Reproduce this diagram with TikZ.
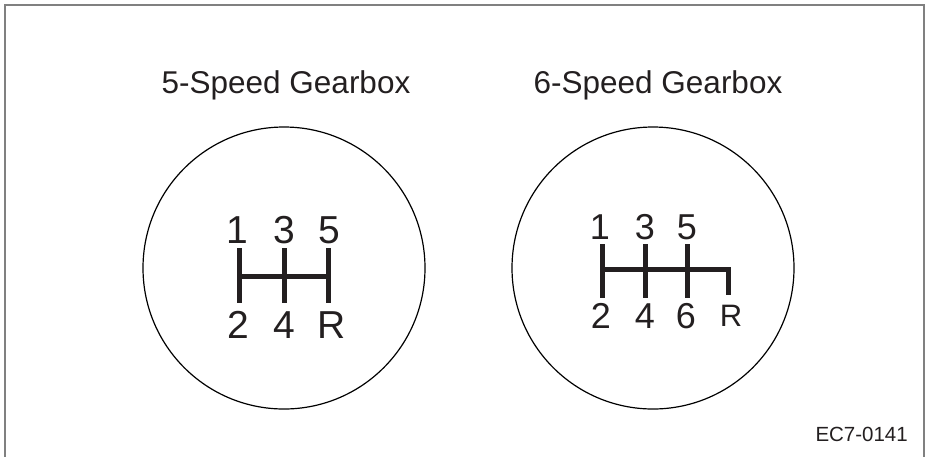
\documentclass[tikz,border=0pt]{standalone}
\usepackage{fontspec}
\setmainfont{Liberation Sans}
\definecolor{framegray}{HTML}{808080}
\definecolor{inkgray}{HTML}{231F20}
\tikzset{
  knob/.style={draw,circle,line width=1.2pt,minimum size=282pt,inner sep=0pt},
  heading/.style={anchor=base,text=inkgray,font=\fontsize{31.5}{32}\selectfont},
  gearbig/.style={anchor=base,inner sep=0pt,text=inkgray,font=\fontsize{39}{39}\selectfont},
  gearmid/.style={anchor=base,inner sep=0pt,text=inkgray,font=\fontsize{36}{36}\selectfont},
  gearrev/.style={anchor=base,inner sep=0pt,text=inkgray,font=\fontsize{31}{31}\selectfont},
  gate/.style={draw=inkgray,line width=5pt,line join=miter}
}
\begin{document}
\begin{tikzpicture}[x=1pt,y=-1pt]
  \useasboundingbox (0,0) rectangle (926,456);
  % frame, open at the bottom
  \draw[framegray,line width=2pt] (5,480) -- (5,5) -- (924,5) -- (924,480);

  % 5-speed
  \node[heading] (headA) at (286,93) {5-Speed Gearbox};
  \node[knob] (knobA) at (284,268) {};
  \foreach \n/\x in {1/237,3/284,5/329}
    \node[gearbig] (topA\n) at (\x,243) {\n};
  \foreach \n/\x in {2/238,4/284,R/332}
    \node[gearbig] (botA\n) at (\x,338) {\n};
  \coordinate (lA) at (239,276);
  \coordinate (rA) at (328,276);
  \draw[gate] (lA) -- (rA);
  \foreach \x in {239,284,328}
    \draw[gate] (\x,248) -- (\x,303);

  % 6-speed
  \node[heading] (headB) at (658,93) {6-Speed Gearbox};
  \node[knob] (knobB) at (653,268) {};
  \foreach \n/\x in {1/600,3/645,5/687}
    \node[gearmid] (topB\n) at (\x,239) {\n};
  \foreach \n/\x in {2/601,4/645,6/686}
    \node[gearmid] (botB\n) at (\x,328) {\n};
  \node[gearrev] (botBR) at (731,326) {R};
  \coordinate (lB) at (602,269);
  \coordinate (rB) at (728,269);
  \coordinate (sB) at (728,295);
  \draw[gate] (lB) -- (rB) -- (sB);
  \foreach \x in {602,645,687}
    \draw[gate] (\x,244) -- (\x,298);

  \node[anchor=base east,inner sep=0pt,text=inkgray,font=\fontsize{20.5}{21}\selectfont]
    (code) at (908,441) {EC7-0141};
\end{tikzpicture}
\end{document}
